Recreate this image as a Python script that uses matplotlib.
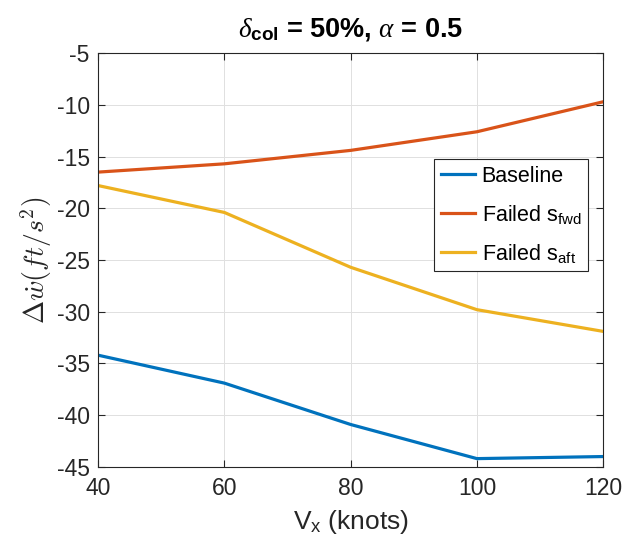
import matplotlib
matplotlib.use("Agg")
import matplotlib.pyplot as plt

# ===========================
# Data
# ===========================
speed_knots = [40, 60, 80, 100, 120]
baseline = [-34.2, -36.9, -40.9, -44.2, -44.0]
failed_fwd = [-16.5, -15.7, -14.4, -12.6, -9.7]
failed_aft = [-17.8, -20.4, -25.7, -29.8, -31.9]

x_ticks = [40, 60, 80, 100, 120]
y_ticks = [-45, -40, -35, -30, -25, -20, -15, -10, -5]

# MATLAB default colour order
C_BLUE = "#0072BD"
C_ORANGE = "#D95319"
C_YELLOW = "#EDB120"

plt.rcParams["font.family"] = ["Liberation Sans", "DejaVu Sans"]
plt.rcParams["axes.unicode_minus"] = False
plt.rcParams["mathtext.fontset"] = "custom"
plt.rcParams["mathtext.rm"] = "Liberation Sans"
plt.rcParams["mathtext.bf"] = "Liberation Sans:bold"
plt.rcParams["mathtext.it"] = "Liberation Serif:italic"

fig = plt.figure(figsize=(6.41, 5.48), dpi=100)
ax = fig.add_axes([0.153, 0.148, 0.788, 0.755])

lw = 2.3
ax.plot(speed_knots, baseline, color=C_BLUE, lw=lw, label="Baseline")
ax.plot(speed_knots, failed_fwd, color=C_ORANGE, lw=lw, label=r"Failed s$_{\mathrm{fwd}}$")
ax.plot(speed_knots, failed_aft, color=C_YELLOW, lw=lw, label=r"Failed s$_{\mathrm{aft}}$")

ax.set_xlim(40, 120)
ax.set_ylim(-45, -5)
ax.set_xticks(x_ticks)
ax.set_yticks(y_ticks)
ax.tick_params(direction="in", top=True, right=True, labelsize=16.5,
               colors="#262626", length=5, width=0.8)
ax.tick_params(axis="x", pad=7)
ax.tick_params(axis="y", pad=6)
for s in ax.spines.values():
    s.set_color("#262626")
    s.set_linewidth(0.8)
ax.grid(True, color="#e0e0e0", linewidth=0.7)
ax.set_axisbelow(True)

ax.set_xlabel(r"V$_{\mathrm{x}}$ (knots)", fontsize=19, color="#262626", labelpad=6)
ax.set_ylabel(r"$\Delta\dot{w}(ft/s^2)$", fontsize=20, color="#262626",
              math_fontfamily="cm", labelpad=2)
ax.set_title(r"$\delta_{\mathbf{col}}$ = 50%, $\alpha$ = 0.5", fontsize=19.5,
             fontweight="bold", pad=12)

leg = ax.legend(loc="upper right", bbox_to_anchor=(0.970, 0.744), borderaxespad=0,
                fontsize=15.5, frameon=True, fancybox=False, edgecolor="#262626",
                framealpha=1, handlelength=1.6, borderpad=0.3, labelspacing=0.75,
                handletextpad=0.3)
leg.get_frame().set_linewidth(0.8)

fig.savefig("out.png", dpi=100)
